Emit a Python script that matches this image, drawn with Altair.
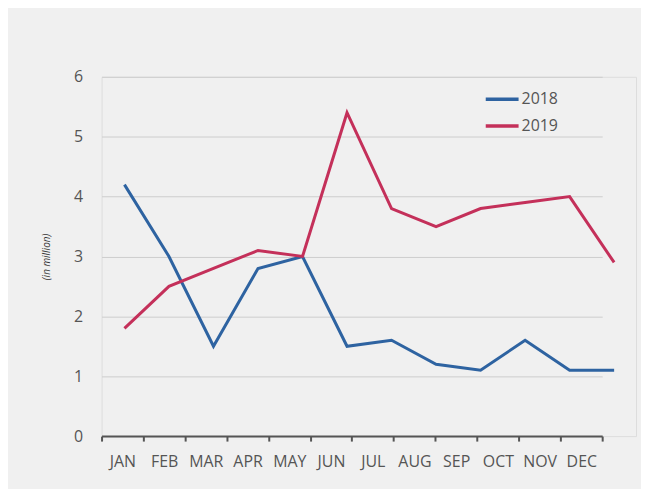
import altair as alt
import pandas as pd

months = ["JAN", "FEB", "MAR", "APR", "MAY", "JUN", "JUL", "AUG", "SEP", "OCT", "NOV", "DEC"]
v2018 = [4.2, 3.0, 1.5, 2.8, 3.0, 1.5, 1.6, 1.2, 1.1, 1.6, 1.1, 1.1]
v2019 = [1.8, 2.5, 2.8, 3.1, 3.0, 5.4, 3.8, 3.5, 3.8, 3.9, 4.0, 2.9]
years = ["2018", "2019"]
colors = ["#2e63a1", "#c4305a"]

rows = []
for m, a, b in zip(months, v2018, v2019):
    rows.append({"month": m, "year": "2018", "value": a})
    rows.append({"month": m, "year": "2019", "value": b})
df = pd.DataFrame(rows)

FONT = "Open Sans"
TXT = "#555555"

yenc = alt.Y(
    "value:Q",
    scale=alt.Scale(domain=[0, 6]),
    axis=alt.Axis(
        values=[0, 1, 2, 3, 4, 5, 6],
        format="d",
        title="(in million)",
        titleFontStyle="italic",
        titleFontWeight="normal",
        titleFontSize=10,
        titleColor="#333333",
        titlePadding=22,
        labelFontSize=16,
        labelColor=TXT,
        labelPadding=19,
        domain=False,
        ticks=False,
        grid=True,
        gridColor="#cdcdcd",
        gridWidth=1,
    ),
)

lines = alt.Chart(df).mark_line(strokeWidth=3).encode(
    x=alt.X("month:O", sort=months,
            scale=alt.Scale(type="point", range=[23, 515], padding=0),
            axis=None),
    y=yenc,
    color=alt.Color(
        "year:N",
        scale=alt.Scale(domain=years, range=colors),
        legend=alt.Legend(
            title=None,
            orient="none",
            legendX=384,
            legendY=4,
            symbolType="stroke",
            symbolSize=1089,
            symbolStrokeWidth=3.5,
            labelFontSize=16,
            labelColor=TXT,
            labelOffset=1,
            rowPadding=-5,
            padding=0,
        ),
    ),
)

axis_layer = alt.Chart(df).mark_point(opacity=0).encode(
    x=alt.X("month:O", sort=months,
            scale=alt.Scale(type="band", range=[0, 503], paddingInner=0, paddingOuter=0),
            axis=alt.Axis(
                title=None,
                labelAngle=0,
                labelFontSize=16,
                labelColor=TXT,
                labelPadding=13,
                tickBand="extent",
                tickSize=5,
                tickWidth=2,
                tickColor="#555555",
                domainColor="#555555",
                domainWidth=2,
                grid=False,
            )),
    y=alt.Y("value:Q"),
)

chart = alt.layer(axis_layer, lines).resolve_scale(x="independent").properties(
    width=537,
    height=361,
    autosize=alt.AutoSizeParams(type="none"),
    padding={"left": 94, "top": 68, "right": 5, "bottom": 52},
    background="#f0f0f0",
).configure_view(stroke=None).configure(font=FONT)

chart.save("out.html", embed_options={"renderer": "svg", "actions": False})
